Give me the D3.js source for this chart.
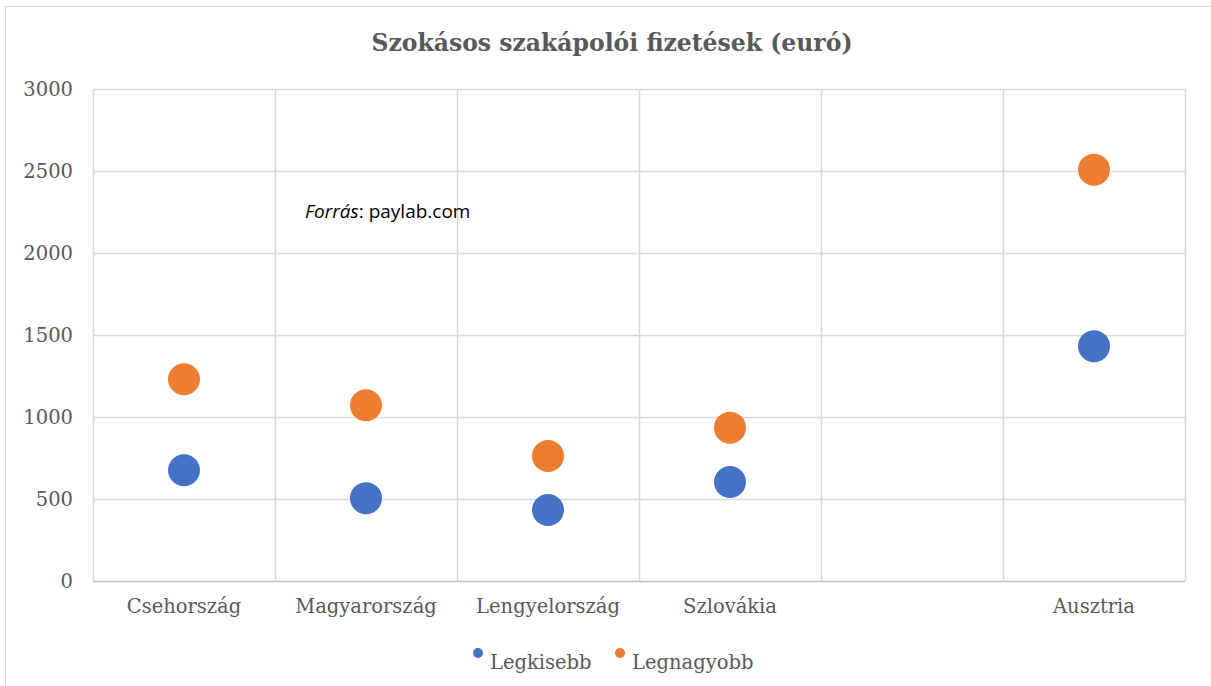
<!DOCTYPE html>
<html><head><meta charset="utf-8">
<script src="https://cdn.jsdelivr.net/npm/d3@7"></script>
<style>body{margin:0;background:#fff}svg{display:block}</style>
</head><body>
<svg id="c" width="1211" height="686"></svg>
<script>
const categories = ["Csehország","Magyarország","Lengyelország","Szlovákia","Ausztria"];
const xValues = [0.5,1.5,2.5,3.5,5.5];
const legkisebb = [675,505,433,604,1432];
const legnagyobb = [1230,1072,762,935,2508];
const yTicks = [0,500,1000,1500,2000,2500,3000];
const seriesNames = ["Legkisebb","Legnagyobb"];
const colors = ["#4472C4","#ED7D31"];

const svg = d3.select("#c");
const x = d3.scaleLinear().domain([0,6]).range([93,1185]);
const y = d3.scaleLinear().domain([0,3000]).range([581,89]);

svg.append("rect").attr("x",5.5).attr("y",6.5).attr("width",1300).attr("height",800)
  .attr("fill","none").attr("stroke","#d9d9d9");

// gridlines
svg.append("g").selectAll("line").data(yTicks.filter(d=>d>0)).join("line")
  .attr("x1",x(0)).attr("x2",x(6)).attr("y1",d=>Math.round(y(d))+0.5).attr("y2",d=>Math.round(y(d))+0.5)
  .attr("stroke","#d9d9d9").attr("stroke-width",1.5);
svg.append("g").selectAll("line").data(d3.range(0,7)).join("line")
  .attr("x1",d=>Math.round(x(d))+0.5).attr("x2",d=>Math.round(x(d))+0.5).attr("y1",y(3000)).attr("y2",y(0))
  .attr("stroke","#d9d9d9").attr("stroke-width",1.5);
svg.append("line").attr("x1",x(0)).attr("x2",x(6)).attr("y1",y(0)+0.5).attr("y2",y(0)+0.5)
  .attr("stroke","#bfbfbf").attr("stroke-width",1.5);

// y tick labels
const yAxis = d3.axisLeft(y).tickValues(yTicks).tickFormat(d3.format("d")).tickSize(0).tickPadding(20);
const ga = svg.append("g").attr("transform",`translate(${x(0)},0)`).call(yAxis);
ga.select(".domain").remove();
ga.selectAll("text").attr("font-family","DejaVu Serif").attr("font-size",19.5).attr("fill","#595959");

// x category labels
svg.append("g").selectAll("text").data(categories).join("text")
  .attr("x",(d,i)=>x(xValues[i])).attr("y",613).attr("text-anchor","middle")
  .attr("font-family","DejaVu Serif").attr("font-size",19.5).attr("fill","#595959")
  .text(d=>d);

// title
svg.append("text").attr("x",612).attr("y",51).attr("text-anchor","middle")
  .attr("font-family","DejaVu Serif").attr("font-weight","bold").attr("font-size",23.5).attr("fill","#595959")
  .text("Szokásos szakápolói fizetések (euró)");

// source note
const src = svg.append("text").attr("x",305).attr("y",218)
  .attr("font-family","Open Sans").attr("font-size",19).attr("fill","#000");
src.append("tspan").attr("font-style","italic").text("Forrás");
src.append("tspan").text(": paylab.com");

// points
[legkisebb,legnagyobb].forEach((vals,si)=>{
  svg.append("g").selectAll("circle").data(vals).join("circle")
    .attr("cx",(d,i)=>x(xValues[i])).attr("cy",d=>y(d)).attr("r",16).attr("fill",colors[si]);
});

// legend
const legX=[478,620];
seriesNames.forEach((n,i)=>{
  svg.append("circle").attr("cx",legX[i]).attr("cy",653).attr("r",5).attr("fill",colors[i]);
  svg.append("text").attr("x",legX[i]+12).attr("y",669).attr("font-family","DejaVu Serif")
    .attr("font-size",19.5).attr("fill","#595959").text(n);
});
</script>
</body></html>
